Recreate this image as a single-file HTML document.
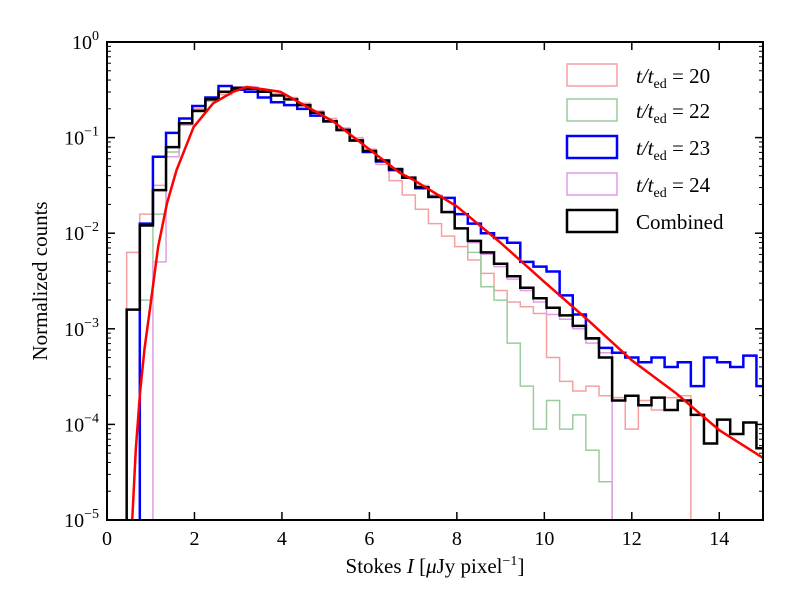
<!DOCTYPE html>
<html><head><meta charset="utf-8"><style>
body{margin:0;background:#fff;}
svg{font-family:"Liberation Serif",serif;}
</style></head><body>
<svg id="chart" width="789" height="607" viewBox="0 0 789 607" xmlns="http://www.w3.org/2000/svg">
<defs><clipPath id="plotclip"><rect x="107" y="42" width="656" height="478"/></clipPath></defs>
<g id="series" clip-path="url(#plotclip)"></g>
<rect x="107" y="42" width="656" height="478" fill="none" stroke="#000" stroke-width="2"/>
<g id="ticks"></g>
<text x="47" y="281" font-size="21" text-anchor="middle" transform="rotate(-90 47 281)">Normalized counts</text>
<text x="435" y="573" font-size="21" text-anchor="middle">Stokes <tspan font-style="italic">I</tspan> [<tspan font-style="italic">μ</tspan>Jy pixel<tspan font-size="14" dy="-8">−1</tspan><tspan dy="8">]</tspan></text>
<g id="legend"></g>
</svg>
<script>
const binStart = 0.15;
const binWidth = 0.3;
const combined = [null,-2.8,-1.92,-1.55,-1.1,-0.85,-0.72,-0.6,-0.52,-0.48,-0.49,-0.52,-0.56,-0.6,-0.66,-0.74,-0.83,-0.92,-1.03,-1.14,-1.24,-1.33,-1.42,-1.52,-1.62,-1.78,-1.95,-2.08,-2.2,-2.32,-2.45,-2.57,-2.68,-2.78,-2.86,-2.97,-3.1,-3.3,-3.75,-3.7,-3.8,-3.72,-3.85,-3.75,-3.9,-4.2,-3.95,-4.1,-3.98,-4.25];
const t23 = [null,null,-1.9,-1.2,-0.95,-0.8,-0.67,-0.58,-0.46,-0.5,-0.52,-0.58,-0.63,-0.66,-0.7,-0.77,-0.83,-0.92,-1.03,-1.15,-1.25,-1.34,-1.42,-1.53,-1.62,-1.63,-1.8,-1.9,-2.0,-2.05,-2.1,-2.3,-2.35,-2.4,-2.65,-2.85,-3.1,-3.2,-3.25,-3.3,-3.35,-3.3,-3.4,-3.35,-3.6,-3.3,-3.35,-3.4,-3.28,-3.6];
const t20 = [null,-2.2,-1.8,-1.5,-1.1,-0.85,-0.7,-0.62,-0.55,-0.5,-0.48,-0.5,-0.54,-0.58,-0.64,-0.72,-0.8,-0.9,-1.0,-1.12,-1.28,-1.45,-1.6,-1.75,-1.9,-2.03,-2.14,-2.28,-2.42,-2.6,-2.72,-2.77,-2.84,-3.3,-3.55,-3.65,-3.6,-3.7,-3.72,-4.05,-3.75,-3.85,-3.72,-3.7,null,null,null,null,null,null];
const t22 = [null,null,-2.7,-1.8,-1.15,-0.87,-0.73,-0.61,-0.53,-0.49,-0.49,-0.52,-0.56,-0.6,-0.66,-0.74,-0.83,-0.92,-1.03,-1.14,-1.24,-1.33,-1.42,-1.52,-1.62,-1.78,-1.95,-2.2,-2.56,-2.7,-3.15,-3.6,-4.05,-3.75,-4.05,-3.9,-4.27,-4.6,null,null,null,null,null,null,null,null,null,null,null,null];
const t24 = [null,null,null,-2.3,-1.2,-0.86,-0.72,-0.6,-0.52,-0.47,-0.47,-0.5,-0.55,-0.6,-0.66,-0.74,-0.82,-0.91,-1.02,-1.13,-1.23,-1.32,-1.41,-1.5,-1.6,-1.77,-1.95,-2.1,-2.22,-2.35,-2.48,-2.6,-2.72,-2.85,-2.9,-3.0,-3.15,-3.25,null,null,null,null,null,null,null,null,null,null,null,null];
const fitX = [0.55,0.58,0.66,0.755,0.86,0.98,1.17,1.37,1.59,1.98,2.43,2.89,3.2,3.96,5.17,6.7,7.0,8.0,9.0,10.0,11.0,12.0,13.0,14.0,15.0];
const fitY = [-5.3,-4.97,-4.25,-3.67,-3.2,-2.8,-2.14,-1.69,-1.34,-0.89,-0.64,-0.52,-0.47,-0.52,-0.83,-1.37,-1.44,-1.72,-2.1,-2.51,-2.91,-3.33,-3.67,-4.06,-4.35];
const xTicks = [0,2,4,6,8,10,12,14];
const yTicks = [0,-1,-2,-3,-4,-5];
const legendLabels = ["20","22","23","24","Combined"];

const NS="http://www.w3.org/2000/svg";
const X0=107,X1=763,Y0=42,Y1=520;
const sx=v=>X0+(v/15)*(X1-X0);
const sy=l=>Y0+(-l/5)*(Y1-Y0);
const g=document.getElementById('series');
function mk(t,a,p){const e=document.createElementNS(NS,t);for(const k in a)e.setAttribute(k,a[k]);p.appendChild(e);return e;}
function stepPath(vals){
  const bottom=sy(-6);
  let d="M"+sx(binStart)+","+bottom;
  vals.forEach((v,i)=>{
    const yy=v===null?bottom:sy(v);
    const xa=sx(binStart+i*binWidth),xb=sx(binStart+(i+1)*binWidth);
    d+=" L"+xa+","+yy+" L"+xb+","+yy;
  });
  d+=" L"+sx(binStart+vals.length*binWidth)+","+bottom;
  return d;
}
const series=[
 {v:t20,c:"#f4a0a0",w:1.5,n:"series-t20"},
 {v:t22,c:"#9ccc9c",w:1.5,n:"series-t22"},
 {v:t24,c:"#e09ee6",w:1.5,n:"series-t24"},
 {v:t23,c:"#0000ff",w:2.5,n:"series-t23"},
 {v:combined,c:"#000",w:2.5,n:"series-combined"}];
series.forEach(s=>{
  const p=mk('path',{d:stepPath(s.v),fill:"none",stroke:s.c,"stroke-width":s.w},g);
  
  
});
let fd=fitX.map((x,i)=>(i?"L":"M")+sx(x)+","+sy(fitY[i])).join(" ");
const fp=mk('path',{d:fd,fill:"none",stroke:"#ff0000","stroke-width":2.5,"stroke-linejoin":"round"},g);



const tk=document.getElementById('ticks');
xTicks.forEach(v=>{
  const x=sx(v);
  mk('line',{x1:x,x2:x,y1:Y1,y2:Y1-8,stroke:"#000","stroke-width":1.5},tk);
  mk('line',{x1:x,x2:x,y1:Y0,y2:Y0+8,stroke:"#000","stroke-width":1.5},tk);
  const t=mk('text',{x:x,y:Y1+25,"font-size":20,"text-anchor":"middle"},tk);
  t.textContent=v;
  
  
});
yTicks.forEach(l=>{
  const y=sy(l);
  mk('line',{x1:X0,x2:X0+8,y1:y,y2:y,stroke:"#000","stroke-width":1.5},tk);
  mk('line',{x1:X1,x2:X1-8,y1:y,y2:y,stroke:"#000","stroke-width":1.5},tk);
  if(l>-5){for(let m=2;m<=9;m++){const yy=sy(l-1+Math.log10(m));
    mk('line',{x1:X0,x2:X0+4,y1:yy,y2:yy,stroke:"#000","stroke-width":1},tk);
    mk('line',{x1:X1,x2:X1-4,y1:yy,y2:yy,stroke:"#000","stroke-width":1},tk);}}
  const t=mk('text',{x:X0-8,y:y+7,"font-size":20,"text-anchor":"end"},tk);
  
  
  const a=document.createElementNS(NS,'tspan');a.textContent="10";t.appendChild(a);
  const b=document.createElementNS(NS,'tspan');b.setAttribute('font-size','14');b.setAttribute('dy','-9');
  b.textContent=l===0?"0":"−"+(-l);t.appendChild(b);
});

const lg=document.getElementById('legend');
const lc=["#f4a0a0","#9ccc9c","#0000ff","#e09ee6","#000"];
const lw=[1.5,1.5,2.5,1.5,2.5];
const ly=[75,110,147,184,221];
legendLabels.forEach((lab,i)=>{
  const r=mk('rect',{x:567,y:ly[i]-11,width:50,height:22,fill:"none",stroke:lc[i],"stroke-width":lw[i]},lg);
  
  
  const t=mk('text',{x:636,y:ly[i]+8,"font-size":21},lg);
  
  
  if(lab==="Combined"){t.textContent=lab;}
  else{
    const a=document.createElementNS(NS,'tspan');a.setAttribute('font-style','italic');a.textContent="t/t";t.appendChild(a);
    const b=document.createElementNS(NS,'tspan');b.setAttribute('font-size','14');b.setAttribute('dy','5');b.textContent="ed";t.appendChild(b);
    const c=document.createElementNS(NS,'tspan');c.setAttribute('dy','-5');c.textContent=" = "+lab;t.appendChild(c);
  }
});
</script>
</body></html>
